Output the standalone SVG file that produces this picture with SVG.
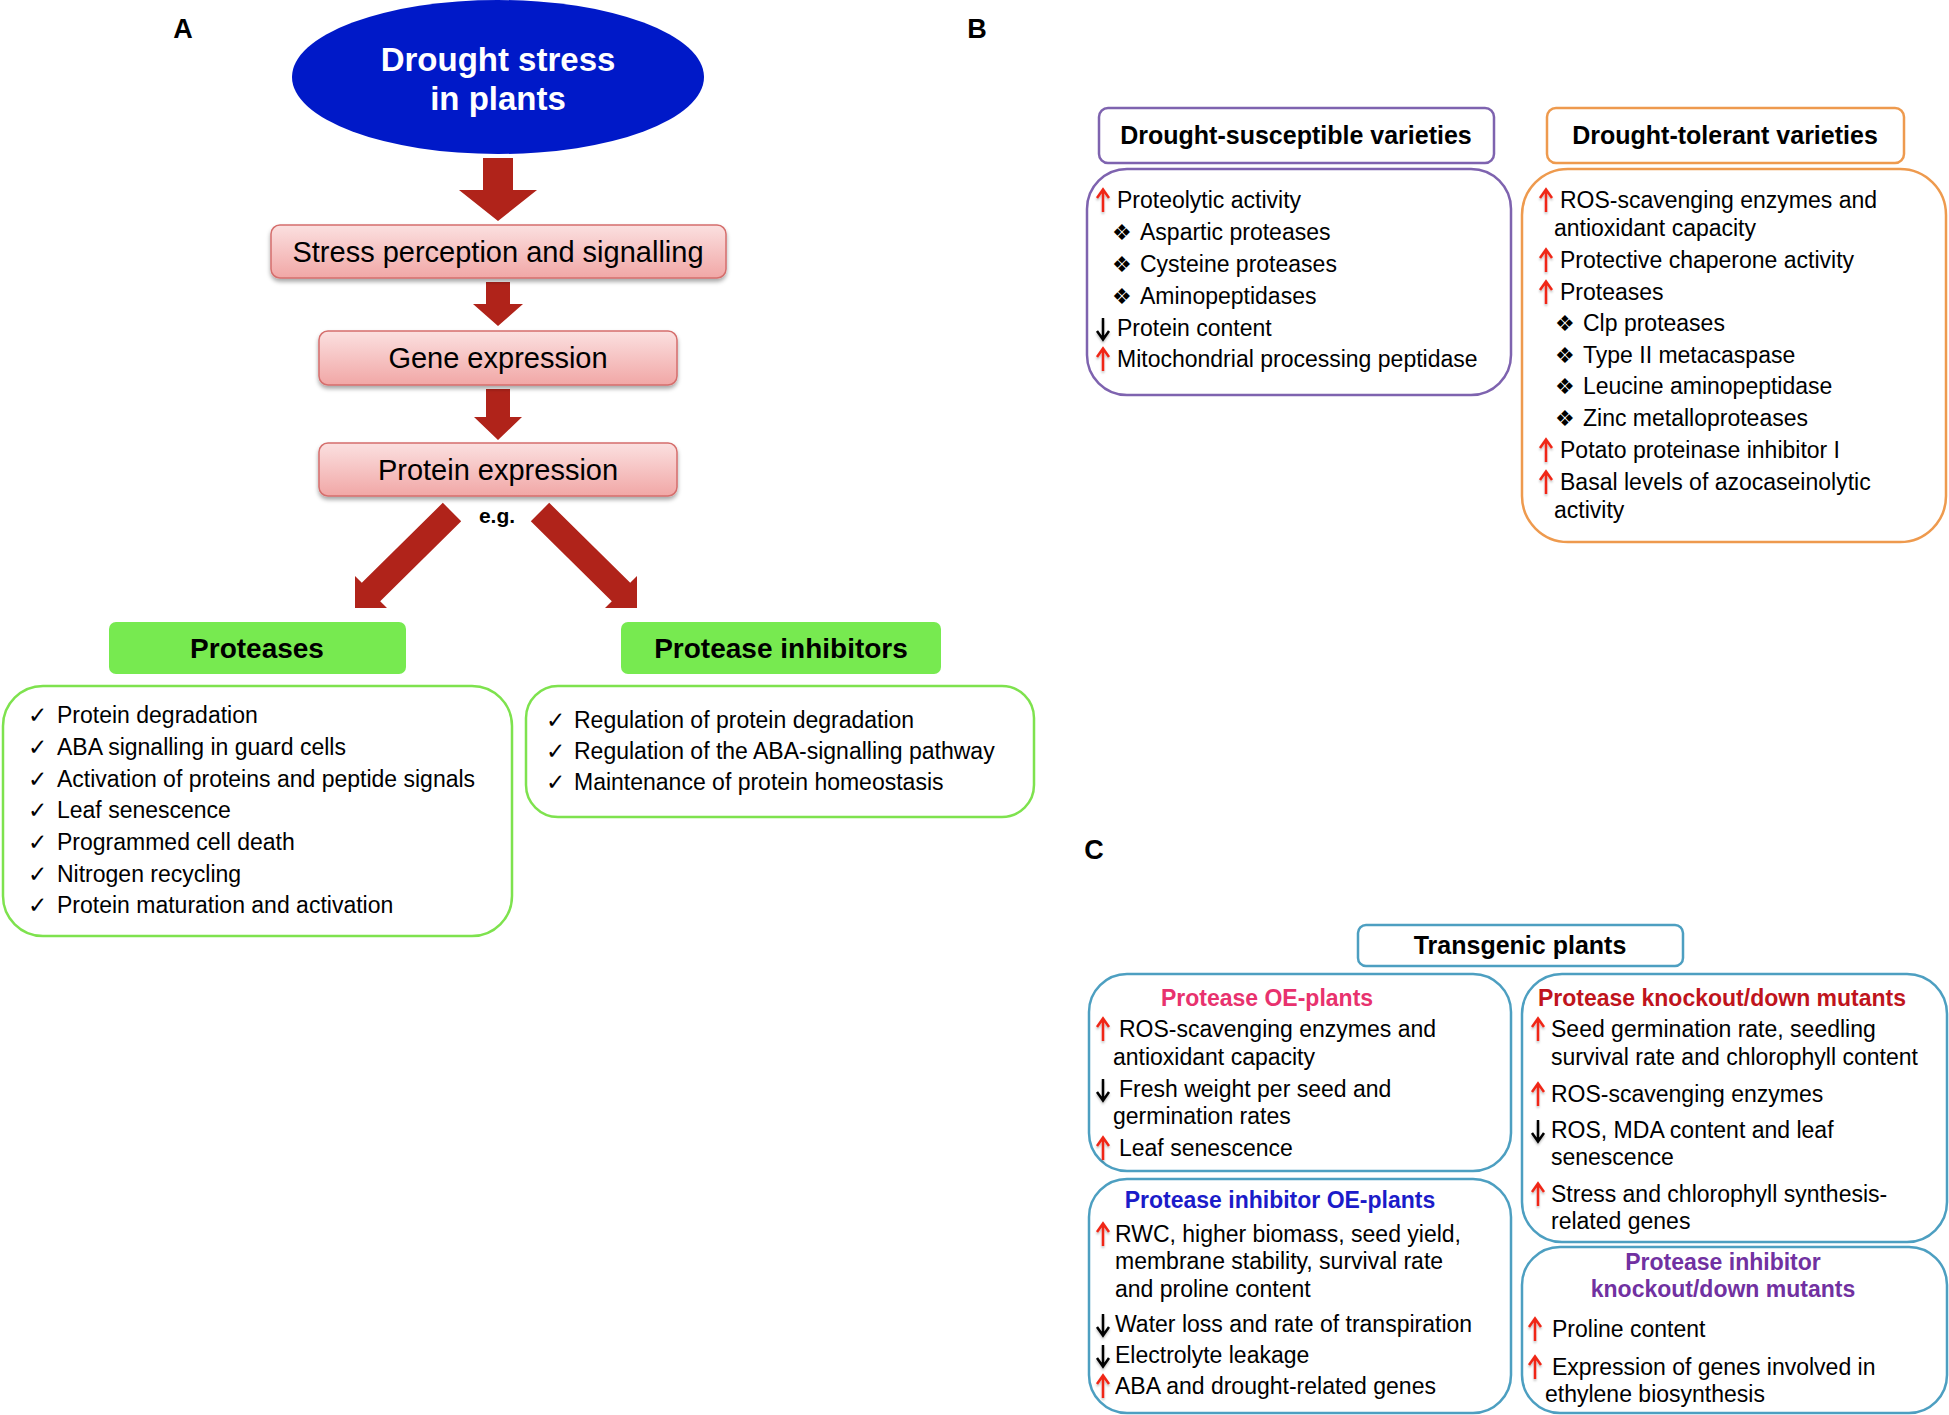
<svg xmlns="http://www.w3.org/2000/svg" xmlns:xlink="http://www.w3.org/1999/xlink" width="1949" height="1415" viewBox="0 0 1949 1415">
<style>
text{font-family:"Liberation Sans",Arial,sans-serif;fill:#000}
.t{font-size:23px}
.b{font-weight:bold}
.lbl{font-size:27px;font-weight:bold}
.pink{fill:url(#pg);stroke:#D56E6C;stroke-width:1.5;filter:url(#sh)}
.pt{font-size:29px;text-anchor:middle}
.gh{fill:#77EA50}
.gl{fill:#fff;stroke:#7EE24E;stroke-width:2.5}
.ck{font-family:"DejaVu Sans",sans-serif;font-size:23px}
.dm{font-family:"DejaVu Sans",sans-serif;font-size:22px}
.pu{fill:#fff;stroke:#7E63AF;stroke-width:2.5}
.or{fill:#fff;stroke:#EE9A4E;stroke-width:2.5}
.bl{fill:#fff;stroke:#4D9FC1;stroke-width:2.5}
.arr{fill:#B0231A}
</style>
<defs>
<linearGradient id="pg" x1="0" y1="0" x2="0" y2="1">
<stop offset="0" stop-color="#FBE0E0"/>
<stop offset="1" stop-color="#F1A7A6"/>
</linearGradient>
<filter id="sh" x="-10%" y="-20%" width="120%" height="160%">
<feDropShadow dx="0" dy="3" stdDeviation="2" flood-color="#000" flood-opacity="0.35"/>
</filter>
<filter id="ash" x="-50%" y="-30%" width="200%" height="170%">
<feDropShadow dx="0" dy="2" stdDeviation="1.2" flood-color="#000" flood-opacity="0.25"/>
</filter>
<g id="up" filter="url(#ash)"><path d="M0,-17V4M-6,-10L0,-18.5L6,-10" fill="none" stroke="#F02818" stroke-width="2.5"/></g>
<g id="dn" filter="url(#ash)"><path d="M0,-18V3M-6,-5L0,3.5L6,-5" fill="none" stroke="#000" stroke-width="2.5"/></g>
</defs>
<rect width="1949" height="1415" fill="#fff"/>

<text class="lbl" x="183" y="38" text-anchor="middle">A</text>
<text class="lbl" x="977" y="38" text-anchor="middle">B</text>
<text class="lbl" x="1094" y="859" text-anchor="middle">C</text>

<g id="drought">
<ellipse cx="498" cy="77" rx="206" ry="77" fill="#0019C8"/>
<text x="498" y="71" text-anchor="middle" class="b" style="fill:#fff;font-size:33px">Drought stress</text>
<text x="498" y="110" text-anchor="middle" class="b" style="fill:#fff;font-size:33px">in plants</text>
</g>

<g id="connectors">
<polygon class="arr" points="483,158 513,158 513,190 537,190 498,221 459,190 483,190"/>
<polygon class="arr" points="486,282 510,282 510,304 523,304 498,326 473,304 486,304"/>
<polygon class="arr" points="486,389 510,389 510,417 522,417 498,440 474,417 486,417"/>
<polygon class="arr" points="442.8,502.8 461.2,521.2 380.2,601.2 387,608 355,608 355,576 361.8,582.8"/>
<polygon class="arr" points="549.2,502.8 530.8,521.2 611.8,601.2 605,608 637,608 637,576 630.2,582.8"/>
<text x="497" y="523" text-anchor="middle" class="b" style="font-size:21px">e.g.</text>
</g>

<g id="stress">
<rect class="pink" x="271" y="225" width="455" height="53" rx="9"/>
<text class="pt" x="498" y="262">Stress perception and signalling</text>
</g>
<g id="gene">
<rect class="pink" x="319" y="331" width="358" height="54" rx="9"/>
<text class="pt" x="498" y="368">Gene expression</text>
</g>
<g id="protein">
<rect class="pink" x="319" y="443" width="358" height="53" rx="9"/>
<text class="pt" x="498" y="480">Protein expression</text>
</g>

<g id="proteases">
<rect class="gh" x="109" y="622" width="297" height="52" rx="7"/>
<text x="257" y="658" text-anchor="middle" class="b" style="font-size:28px">Proteases</text>
</g>
<g id="inhibitors">
<rect class="gh" x="621" y="622" width="320" height="52" rx="7"/>
<text x="781" y="658" text-anchor="middle" class="b" style="font-size:28px">Protease inhibitors</text>
</g>

<g id="proteases-list">
<rect class="gl" x="3" y="686" width="509" height="250" rx="40"/>
<text class="ck" x="28" y="723">✓</text>
<text class="ck" x="28" y="755">✓</text>
<text class="ck" x="28" y="787">✓</text>
<text class="ck" x="28" y="818">✓</text>
<text class="ck" x="28" y="850">✓</text>
<text class="ck" x="28" y="882">✓</text>
<text class="ck" x="28" y="913">✓</text>
<text class="t" x="57" y="723">Protein degradation</text>
<text class="t" x="57" y="755">ABA signalling in guard cells</text>
<text class="t" x="57" y="787">Activation of proteins and peptide signals</text>
<text class="t" x="57" y="818">Leaf senescence</text>
<text class="t" x="57" y="850">Programmed cell death</text>
<text class="t" x="57" y="882">Nitrogen recycling</text>
<text class="t" x="57" y="913">Protein maturation and activation</text>
</g>

<g id="inhibitors-list">
<rect class="gl" x="526" y="686" width="508" height="131" rx="32"/>
<text class="ck" x="546" y="728">✓</text>
<text class="ck" x="546" y="759">✓</text>
<text class="ck" x="546" y="790">✓</text>
<text class="t" x="574" y="728">Regulation of protein degradation</text>
<text class="t" x="574" y="759">Regulation of the ABA-signalling pathway</text>
<text class="t" x="574" y="790">Maintenance of protein homeostasis</text>
</g>

<g id="susceptible-title">
<rect class="pu" x="1099" y="108" width="395" height="55" rx="9"/>
<text x="1296" y="144" text-anchor="middle" class="b" style="font-size:25px">Drought-susceptible varieties</text>
</g>
<g id="susceptible-list">
<rect class="pu" x="1087" y="169" width="424" height="226" rx="40"/>
<use href="#up" x="1103" y="208"/>
<text class="t" x="1117" y="208">Proteolytic activity</text>
<text class="dm" x="1112" y="240">❖</text>
<text class="t" x="1140" y="240">Aspartic proteases</text>
<text class="dm" x="1112" y="272">❖</text>
<text class="t" x="1140" y="272">Cysteine proteases</text>
<text class="dm" x="1112" y="304">❖</text>
<text class="t" x="1140" y="304">Aminopeptidases</text>
<use href="#dn" x="1103" y="336"/>
<text class="t" x="1117" y="336">Protein content</text>
<use href="#up" x="1103" y="367"/>
<text class="t" x="1117" y="367">Mitochondrial processing peptidase</text>
</g>

<g id="tolerant-title">
<rect class="or" x="1547" y="108" width="357" height="55" rx="9"/>
<text x="1725" y="144" text-anchor="middle" class="b" style="font-size:25px">Drought-tolerant varieties</text>
</g>
<g id="tolerant-list">
<rect class="or" x="1522" y="169" width="424" height="373" rx="46"/>
<use href="#up" x="1546" y="208"/>
<text class="t" x="1560" y="208">ROS-scavenging enzymes and</text>
<text class="t" x="1554" y="236">antioxidant capacity</text>
<use href="#up" x="1546" y="268"/>
<text class="t" x="1560" y="268">Protective chaperone activity</text>
<use href="#up" x="1546" y="300"/>
<text class="t" x="1560" y="300">Proteases</text>
<text class="dm" x="1555" y="331">❖</text>
<text class="t" x="1583" y="331">Clp proteases</text>
<text class="dm" x="1555" y="363">❖</text>
<text class="t" x="1583" y="363">Type II metacaspase</text>
<text class="dm" x="1555" y="394">❖</text>
<text class="t" x="1583" y="394">Leucine aminopeptidase</text>
<text class="dm" x="1555" y="426">❖</text>
<text class="t" x="1583" y="426">Zinc metalloproteases</text>
<use href="#up" x="1546" y="458"/>
<text class="t" x="1560" y="458">Potato proteinase inhibitor I</text>
<use href="#up" x="1546" y="490"/>
<text class="t" x="1560" y="490">Basal levels of azocaseinolytic</text>
<text class="t" x="1554" y="518">activity</text>
</g>

<g id="transgenic">
<rect class="bl" x="1358" y="925" width="325" height="41" rx="8"/>
<text x="1520" y="954" text-anchor="middle" class="b" style="font-size:25px">Transgenic plants</text>
</g>

<g id="protease-oe">
<rect class="bl" x="1089" y="974" width="422" height="197" rx="38"/>
<text x="1267" y="1006" text-anchor="middle" class="b" style="font-size:23px;fill:#E8326E">Protease OE-plants</text>
<use href="#up" x="1103" y="1037"/>
<text class="t" x="1119" y="1037">ROS-scavenging enzymes and</text>
<text class="t" x="1113" y="1065">antioxidant capacity</text>
<use href="#dn" x="1103" y="1097"/>
<text class="t" x="1119" y="1097">Fresh weight per seed and</text>
<text class="t" x="1113" y="1124">germination rates</text>
<use href="#up" x="1103" y="1156"/>
<text class="t" x="1119" y="1156">Leaf senescence</text>
</g>

<g id="inhibitor-oe">
<rect class="bl" x="1089" y="1179" width="422" height="234" rx="38"/>
<text x="1280" y="1208" text-anchor="middle" class="b" style="font-size:23px;fill:#1B1BC9">Protease inhibitor OE-plants</text>
<use href="#up" x="1103" y="1242"/>
<text class="t" x="1115" y="1242">RWC, higher biomass, seed yield,</text>
<text class="t" x="1115" y="1269">membrane stability, survival rate</text>
<text class="t" x="1115" y="1297">and proline content</text>
<use href="#dn" x="1103" y="1332"/>
<text class="t" x="1115" y="1332">Water loss and rate of transpiration</text>
<use href="#dn" x="1103" y="1363"/>
<text class="t" x="1115" y="1363">Electrolyte leakage</text>
<use href="#up" x="1103" y="1394"/>
<text class="t" x="1115" y="1394">ABA and drought-related genes</text>
</g>

<g id="protease-ko">
<rect class="bl" x="1522" y="974" width="425" height="268" rx="40"/>
<text x="1722" y="1006" text-anchor="middle" class="b" style="font-size:23px;fill:#C0141C">Protease knockout/down mutants</text>
<use href="#up" x="1538" y="1037"/>
<text class="t" x="1551" y="1037">Seed germination rate, seedling</text>
<text class="t" x="1551" y="1065">survival rate and chlorophyll content</text>
<use href="#up" x="1538" y="1102"/>
<text class="t" x="1551" y="1102">ROS-scavenging enzymes</text>
<use href="#dn" x="1538" y="1138"/>
<text class="t" x="1551" y="1138">ROS, MDA content and leaf</text>
<text class="t" x="1551" y="1165">senescence</text>
<use href="#up" x="1538" y="1202"/>
<text class="t" x="1551" y="1202">Stress and chlorophyll synthesis-</text>
<text class="t" x="1551" y="1229">related genes</text>
</g>

<g id="inhibitor-ko">
<rect class="bl" x="1522" y="1247" width="425" height="166" rx="38"/>
<text x="1723" y="1270" text-anchor="middle" class="b" style="font-size:23px;fill:#7131A1">Protease inhibitor</text>
<text x="1723" y="1297" text-anchor="middle" class="b" style="font-size:23px;fill:#7131A1">knockout/down mutants</text>
<use href="#up" x="1535" y="1337"/>
<text class="t" x="1552" y="1337">Proline content</text>
<use href="#up" x="1535" y="1375"/>
<text class="t" x="1552" y="1375">Expression of genes involved in</text>
<text class="t" x="1545" y="1402">ethylene biosynthesis</text>
</g>
</svg>
